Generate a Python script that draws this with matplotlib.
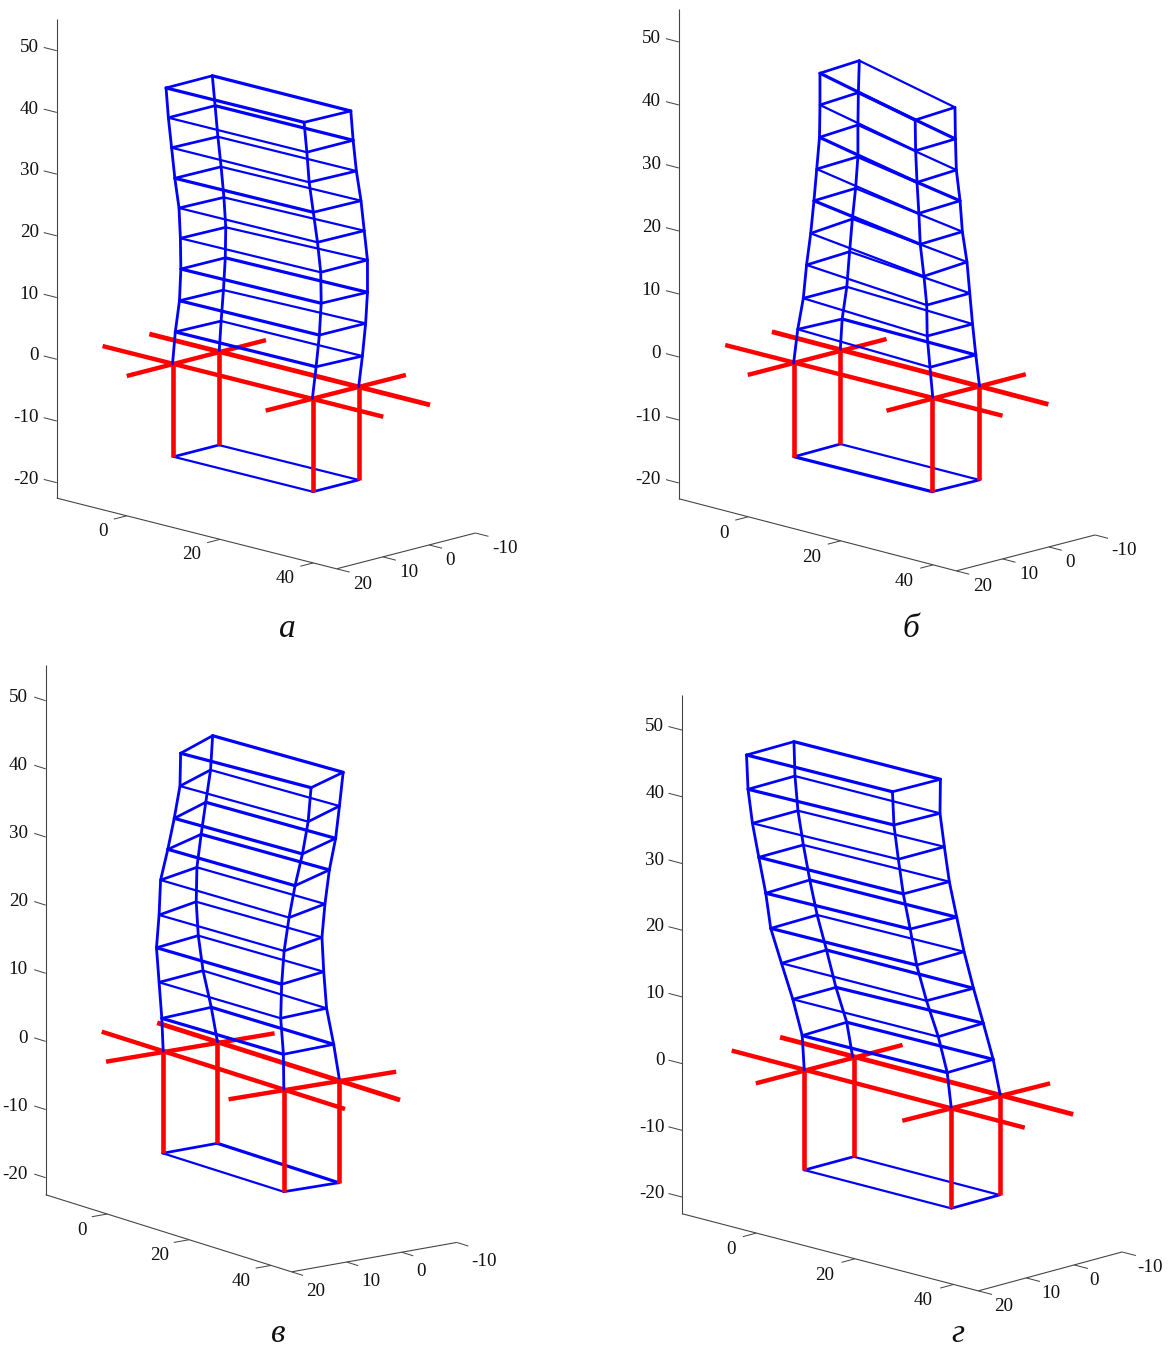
import numpy as np
import matplotlib
matplotlib.use('Agg')
import matplotlib.pyplot as plt

# storey levels, base first
levels = [-15, 0, 5, 10, 15, 20, 25, 30, 35, 40, 45]
x_ticks = [0, 20, 40]
y_ticks = [-10, 0, 10, 20]
z_ticks = [-20, -10, 0, 10, 20, 30, 40, 50]

# corner positions, FL/BL/FR/BR = front/back, left/right
a_fl_x = [-0.3, -0.5, -0.7, -0.4, -0.6, -0.6, -0.5, -0.5, -0.7, -0.7, -0.5]
a_fl_y = [9.6, 9.6, 8.8, 8.2, 7.7, 7.8, 8.2, 9.1, 9.6, 10.3, 11.0]
a_bl_x = [-0.3, -1.0, -0.3, -0.1, -0.5, -0.3, -0.1, -0.3, -0.3, -0.7, -0.6]
a_bl_y = [-0.2, -1.0, -0.7, -1.0, -1.8, -1.7, -1.1, -0.7, -0.0, 0.2, 0.9]
a_fr_x = [29.5, 29.1, 29.2, 29.2, 29.0, 28.9, 28.9, 28.8, 28.7, 28.8, 28.9]
a_fr_y = [9.5, 9.2, 8.5, 7.8, 7.2, 7.2, 7.9, 8.7, 9.5, 10.1, 10.8]
a_br_x = [29.5, 29.2, 29.7, 29.3, 29.4, 28.8, 29.1, 29.1, 29.1, 28.8, 29.2]
a_br_y = [-0.4, -0.7, -1.0, -2.1, -2.4, -3.0, -2.0, -1.3, -0.3, 0.1, 1.0]
a_beam_x = [-15.6, 44.5, -15.6, 44.6, -0.4, -0.4, 29.2, 29.4]
a_beam_y = [9.5, 9.4, -0.6, -0.6, 19.6, -10.5, 19.4, -10.7]

b_fl_x = [-0.4, 0.0, -0.6, 0.2, -0.2, 0.2, 0.1, 0.3, 0.5, 0.2, 0.1]
b_fl_y = [9.7, 10.2, 8.7, 8.3, 7.2, 6.7, 5.9, 5.5, 5.1, 4.7, 4.6]
b_bl_x = [-0.7, -0.8, -0.1, 0.1, -1.1, -1.3, -0.6, -0.4, -0.5, -0.8, -0.9]
b_bl_y = [-0.6, -0.7, -0.4, -1.2, -3.0, -3.8, -3.8, -4.1, -4.2, -4.6, -4.9]
b_fr_x = [29.1, 29.2, 29.5, 29.3, 29.5, 30.3, 29.7, 29.8, 29.8, 29.6, 29.9]
b_fr_y = [9.3, 9.3, 10.2, 10.6, 10.9, 12.3, 12.5, 12.9, 13.3, 13.4, 13.8]
b_br_x = [29.3, 29.5, 29.3, 29.2, 29.2, 29.0, 29.0, 29.0, 28.9, 29.0, 28.9]
b_br_y = [-0.7, -0.5, 0.1, 0.7, 1.3, 1.7, 2.7, 3.2, 3.9, 4.2, 4.2]
b_beam_x = [-15.0, 44.4, -15.5, 44.6, -0.1, -0.1, 29.8, 29.6]
b_beam_y = [10.0, 9.4, -0.6, -0.3, 20.0, -10.0, 19.9, -10.4]

c_fl_x = [0.1, 0.1, 0.7, -0.5, -1.0, -0.1, -0.4, 1.9, 4.0, 5.4, 6.1]
c_fl_y = [10.0, 9.9, 10.6, 10.2, 10.3, 10.5, 10.0, 10.4, 10.8, 10.8, 11.2]
c_bl_x = [-0.0, 0.3, -0.4, -2.4, -3.3, -3.4, -3.5, -2.6, -1.2, 0.1, 0.2]
c_bl_y = [-0.0, 0.2, 0.8, 0.8, 1.0, 1.3, 1.1, 1.0, 1.2, 1.3, 1.0]
c_fr_x = [29.9, 29.8, 29.3, 28.1, 28.2, 28.8, 29.6, 31.2, 33.0, 34.4, 34.7]
c_fr_y = [10.2, 10.1, 9.8, 9.4, 9.3, 9.3, 9.0, 9.1, 9.1, 9.1, 8.8]
c_br_x = [30.3, 29.2, 28.8, 27.2, 25.7, 25.4, 26.0, 26.4, 28.2, 29.4, 29.9]
c_br_y = [0.5, -0.4, 0.3, 0.4, -0.2, -0.1, -0.2, -0.7, -0.5, -0.3, -0.6]
c_beam_x = [-14.9, 45.0, -14.4, 45.4, 0.4, 1.2, 29.9, 31.0]
c_beam_y = [9.9, 10.3, 0.2, 0.6, 20.5, -9.5, 20.2, -9.4]

d_fl_x = [-0.0, 0.0, -0.6, -2.7, -4.9, -6.6, -7.8, -9.5, -10.4, -11.1, -11.6]
d_fl_y = [10.0, 10.0, 9.8, 9.6, 9.7, 10.2, 10.0, 9.7, 10.1, 10.3, 10.1]
d_bl_x = [-0.0, -0.1, -1.1, -2.8, -5.3, -6.9, -8.3, -9.6, -10.5, -11.3, -11.8]
d_bl_y = [-0.3, -0.2, 0.0, 0.5, -0.1, 0.2, 0.3, 0.3, 0.5, 0.3, 0.0]
d_fr_x = [29.8, 29.4, 28.5, 26.6, 24.4, 22.5, 20.8, 19.4, 18.4, 17.6, 17.5]
d_fr_y = [10.0, 9.6, 9.5, 9.4, 9.6, 9.7, 9.3, 9.3, 9.3, 9.4, 9.6]
d_br_x = [29.7, 29.5, 28.2, 26.1, 24.5, 22.3, 21.1, 19.5, 18.4, 17.9, 17.7]
d_br_y = [-0.2, -0.5, -0.4, -0.5, -0.1, -0.4, -0.1, -0.2, -0.3, 0.1, -0.2]
d_beam_x = [-14.9, 44.8, -15.0, 44.7, 0.1, 0.6, 29.5, 30.5]
d_beam_y = [9.8, 10.1, -0.4, -0.1, 20.2, -9.9, 19.9, -9.9]

X_LIM = (-15, 45)
Y_LIM = (-10, 20)
Z_LIM = (-22.5, 55.2)

BLUE = '#0000ff'
RED = '#ff0000'
AXIS = '#444444'
TEXT = '#111111'
PX = 0.72  # one pixel in points at dpi 100

# view of each panel: screen position of (x=-15, y=20, z=-20) and the unit vectors
panels = [
    dict(label='а', label_pos=(287, 637), origin=(56.8, 482.7), vx=(4.663, 1.178), vy=(-4.627, 1.193), vz=6.171,
         fl=(a_fl_x, a_fl_y), bl=(a_bl_x, a_bl_y), fr=(a_fr_x, a_fr_y), br=(a_br_x, a_br_y),
         beam=(a_beam_x, a_beam_y), wide_front=[10, 7, 4, 3, 2], wide_back=[10, 9, 4],
         x_shift=(-1.5, 0.5), y_shift=(0, 0)),
    dict(label='б', label_pos=(911, 637), origin=(678.9, 483), vx=(4.623, 1.202), vy=(-4.627, 1.197), vz=6.30,
         fl=(b_fl_x, b_fl_y), bl=(b_bl_x, b_bl_y), fr=(b_fr_x, b_fr_y), br=(b_br_x, b_br_y),
         beam=(b_beam_x, b_beam_y), wide_front=[10, 8, 6, 0], wide_back=[9, 7, 2],
         x_shift=(-2.5, 2), y_shift=(0, 0)),
    dict(label='в', label_pos=(278, 1342), origin=(45.7, 1177.7), vx=(4.098, 1.285), vy=(-5.507, 0.98), vz=6.814,
         fl=(c_fl_x, c_fl_y), bl=(c_bl_x, c_bl_y), fr=(c_fr_x, c_fr_y), br=(c_br_x, c_br_y),
         beam=(c_beam_x, c_beam_y), wide_front=[10, 8, 7, 4, 2], wide_back=[10, 8, 7, 2, 0],
         x_shift=(-3.5, 1), y_shift=(-2, 4)),
    dict(label='г', label_pos=(958, 1342), origin=(682.3, 1197.1), vx=(4.933, 1.285), vy=(-4.793, 1.297), vz=6.671,
         fl=(d_fl_x, d_fl_y), bl=(d_bl_x, d_bl_y), fr=(d_fr_x, d_fr_y), br=(d_br_x, d_br_y),
         beam=(d_beam_x, d_beam_y), wide_front=[10, 9, 7, 6, 5, 2], wide_back=[10, 6, 4, 3, 2],
         x_shift=(-3.5, 1.5), y_shift=(-1, 0)),
]

plt.rcParams['font.family'] = ['Liberation Serif', 'DejaVu Serif']

fig = plt.figure(figsize=(11.71, 13.49), dpi=100)
ax = fig.add_axes([0, 0, 1, 1])
ax.set_xlim(0, 1171)
ax.set_ylim(1349, 0)
ax.axis('off')


def project(p, x, y, z):
    x, y, z = np.asarray(x, float), np.asarray(y, float), np.asarray(z, float)
    u = p['origin'][0] + (x - X_LIM[0]) * p['vx'][0] + (y - Y_LIM[1]) * p['vy'][0]
    v = p['origin'][1] + (x - X_LIM[0]) * p['vx'][1] + (y - Y_LIM[1]) * p['vy'][1] - (z + 20) * p['vz']
    return u, v


def line3d(p, x, y, z, color, width, zorder=2, cap='round'):
    u, v = project(p, x, y, z)
    ax.plot(u, v, color=color, lw=width * PX, zorder=zorder, solid_capstyle=cap, solid_joinstyle='round')


def draw_axes(p):
    xa, xb = X_LIM
    ya, yb = Y_LIM
    za, zb = Z_LIM
    line3d(p, [xa, xa], [yb, yb], [za, zb], AXIS, 1.1, 1, 'butt')
    line3d(p, [xa, xb], [yb, yb], [za, za], AXIS, 1.1, 1, 'butt')
    line3d(p, [xb, xb], [yb, ya], [za, za], AXIS, 1.1, 1, 'butt')
    for t in x_ticks:
        line3d(p, [t, t], [yb, yb + 2.8], [za, za], AXIS, 1.0, 1, 'butt')
        u, v = project(p, t, yb, za)
        ax.text(u - 17 + p['x_shift'][0], v + 15 + p['x_shift'][1], str(t), ha='right', va='center',
                fontsize=13.7, color=TEXT)
    for t in y_ticks:
        line3d(p, [xb, xb + 2.8], [t, t], [za, za], AXIS, 1.0, 1, 'butt')
        u, v = project(p, xb, t, za)
        ax.text(u + 16.5 + p['y_shift'][0], v + 15.5 + p['y_shift'][1], str(t), ha='left', va='center',
                fontsize=13.7, color=TEXT)
    for t in z_ticks:
        line3d(p, [xa, xa - 2.8], [yb, yb], [t, t], AXIS, 1.0, 1, 'butt')
        u, v = project(p, xa, yb, t)
        ax.text(u - 18, v - 3.3, str(t), ha='right', va='center', fontsize=13.7, color=TEXT)


def draw_frame(p):
    corners = [p['fl'], p['bl'], p['br'], p['fr']]
    # floor slabs; level 0 is carried by the red beams only, the base goes under the red columns
    for i in range(len(levels)):
        if levels[i] == 0:
            continue
        z = [levels[i], levels[i]]
        order = 2 if i == 0 else 4
        line3d(p, [p['fl'][0][i], p['fr'][0][i]], [p['fl'][1][i], p['fr'][1][i]], z, BLUE,
               3.2 if i in p['wide_front'] else 2.2, order)
        line3d(p, [p['bl'][0][i], p['br'][0][i]], [p['bl'][1][i], p['br'][1][i]], z, BLUE,
               3.2 if i in p['wide_back'] else 2.2, order)
        line3d(p, [p['fl'][0][i], p['bl'][0][i]], [p['fl'][1][i], p['bl'][1][i]], z, BLUE, 2.7, order)
        line3d(p, [p['fr'][0][i], p['br'][0][i]], [p['fr'][1][i], p['br'][1][i]], z, BLUE, 2.7, order)
    # columns: red and plumb below level 0, blue above
    for cx, cy in corners:
        line3d(p, [cx[0], cx[0]], [cy[0], cy[0]], levels[:2], RED, 4.6, 3, 'butt')
        line3d(p, cx[1:], cy[1:], levels[1:], BLUE, 2.8, 4)
    # foundation beams at level 0
    bx, by = p['beam']
    for k, w in zip(range(0, 8, 2), [4.4, 4.8, 4.4, 4.4]):
        line3d(p, bx[k:k + 2], by[k:k + 2], [0, 0], RED, w, 3, 'butt')


for p in panels:
    draw_axes(p)
    draw_frame(p)
    ax.text(p['label_pos'][0], p['label_pos'][1], p['label'], ha='center', va='baseline',
            fontsize=24, style='italic', color=TEXT)

fig.savefig('out.png', dpi=100)
